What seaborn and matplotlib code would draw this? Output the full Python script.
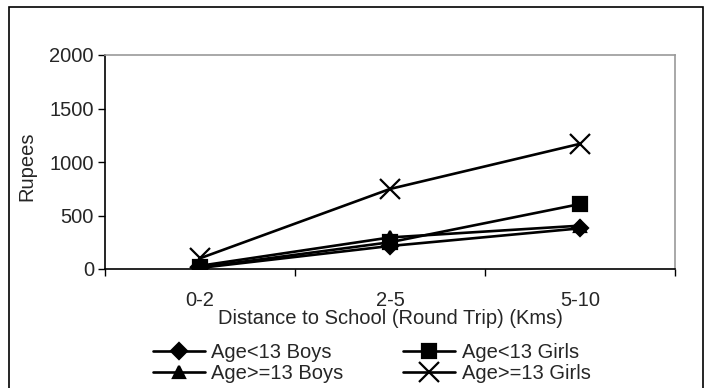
import matplotlib
matplotlib.use("Agg")
import matplotlib.pyplot as plt
from matplotlib.patches import Rectangle
import seaborn as sns
import pandas as pd

# Data: spending on getting to school by distance band
distances = ["0-2", "2-5", "5-10"]
boys_under13 = [10, 215, 380]
girls_under13 = [15, 250, 607]
boys_13plus = [30, 295, 405]
girls_13plus = [100, 748, 1170]

series_names = ["Age<13 Boys", "Age<13 Girls", "Age>=13 Boys", "Age>=13 Girls"]
series_values = [boys_under13, girls_under13, boys_13plus, girls_13plus]
y_ticks = [0, 500, 1000, 1500, 2000]

rows = []
for name, vals in zip(series_names, series_values):
    for i, (d, v) in enumerate(zip(distances, vals)):
        rows.append({"pos": i, "distance": d, "series": name, "Rupees": v})
df = pd.DataFrame(rows)

FS = 14.5

sns.set_theme(style="white")
plt.rcParams["font.family"] = ["Liberation Sans", "DejaVu Sans"]
plt.rcParams["font.size"] = FS

fig = plt.figure(figsize=(7.10, 3.88), dpi=100)
ax = fig.add_axes([105 / 710, 1 - 269 / 388, 570 / 710, 214 / 388])

markers = {"Age<13 Boys": "D", "Age<13 Girls": "s",
           "Age>=13 Boys": "^", "Age>=13 Girls": "x"}
sizes = {"Age<13 Boys": 8, "Age<13 Girls": 10, "Age>=13 Boys": 9, "Age>=13 Girls": 14}

for name in series_names:
    sub = df[df["series"] == name]
    sns.lineplot(data=sub, x="pos", y="Rupees", ax=ax, color="black",
                 linewidth=1.9, marker=markers[name], markersize=sizes[name],
                 markeredgewidth=1.6, markeredgecolor="black",
                 markerfacecolor="black", label=name, legend=False)

ax.set_xlim(-0.5, 2.5)
ax.set_ylim(0, 2000)
ax.set_yticks(y_ticks)
ax.set_yticklabels([str(t) for t in y_ticks], fontsize=FS)
ax.set_xticks(range(len(distances)))
ax.set_xticklabels(distances, fontsize=FS)
ax.set_xticks([-0.5, 0.5, 1.5, 2.5], minor=True)
ax.tick_params(axis="x", which="major", length=0, pad=16)
ax.tick_params(axis="x", which="minor", length=5, width=1, color="black",
               direction="out", bottom=True)
ax.tick_params(axis="y", which="major", length=5, width=1, color="black",
               direction="out", left=True, pad=3)
ax.set_xlabel("Distance to School (Round Trip) (Kms)", fontsize=FS)
ax.set_ylabel("Rupees", fontsize=FS)
ax.xaxis.set_label_coords(0.5, -0.185)
ax.yaxis.set_label_coords(-0.12, 0.48)

for side in ["left", "bottom"]:
    ax.spines[side].set_color("black")
    ax.spines[side].set_linewidth(1.2)
for side in ["top", "right"]:
    ax.spines[side].set_color("#999999")
    ax.spines[side].set_linewidth(1.2)

# legend filled row by row: column-major order of handles
handles, labels = ax.get_legend_handles_labels()
order = [0, 2, 1, 3]
fig.legend([handles[i] for i in order], [labels[i] for i in order],
           ncol=2, frameon=False, loc="upper left",
           bbox_to_anchor=(143 / 710, 1 - 333 / 388), borderpad=0,
           handlelength=2.6, handletextpad=0.3, columnspacing=2.95,
           labelspacing=0.12, fontsize=FS)

# outer chart border
fig.patches.append(Rectangle((9 / 710, -0.05), 694 / 710, 1.05 - 7 / 388,
                             transform=fig.transFigure, fill=False,
                             edgecolor="black", linewidth=1.2))

fig.savefig("out.png", dpi=100)
